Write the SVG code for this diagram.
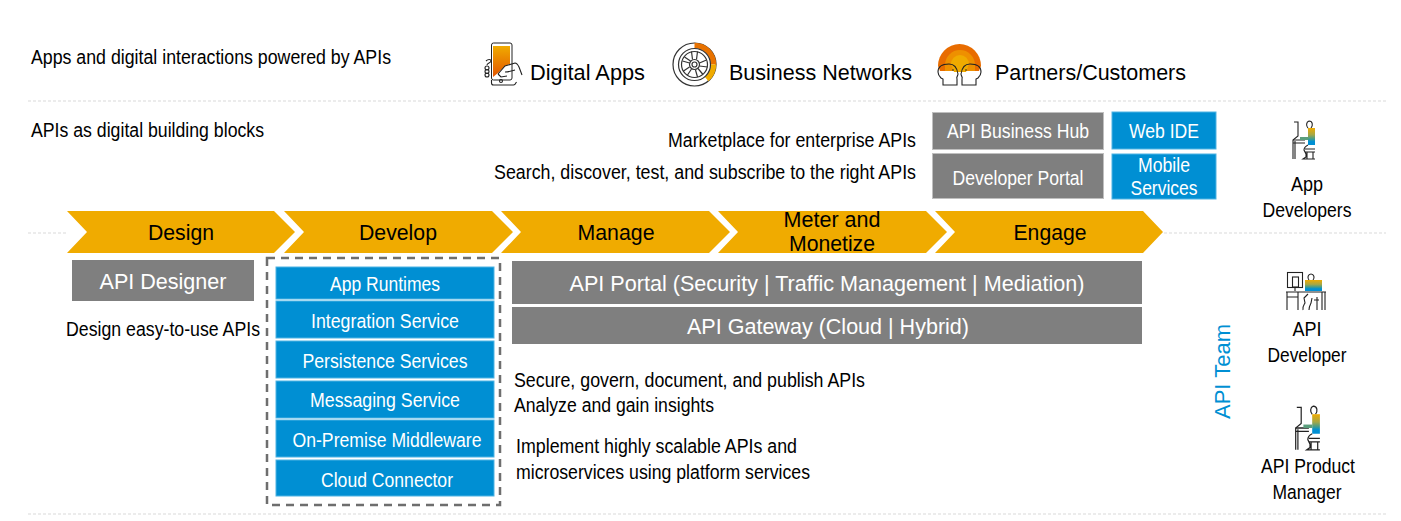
<svg xmlns="http://www.w3.org/2000/svg" width="1401" height="521" viewBox="0 0 1401 521">
<style>
text{font-family:"Liberation Sans",Arial,sans-serif;fill:#000}
.m{text-anchor:middle}
.w{fill:#fff;text-anchor:middle}
.t18{font-size:19.500px}
.t20{font-size:20.500px}
.t22{font-size:22.500px}
.gry{fill:#7f7f7f}
.blu{fill:#008fd3;stroke:#4fb3e3;stroke-width:1}
.chev{fill:#f0ab00}
.sep{stroke:#d9d9d9;stroke-width:1;stroke-dasharray:3 2;fill:none}
.ln{fill:none;stroke:#222;stroke-width:1.1}
.ln2{fill:none;stroke:#333;stroke-width:1.2}
</style>
<defs>
<linearGradient id="bar" x1="0" y1="0" x2="0" y2="1"><stop offset="0" stop-color="#f0ab00"/><stop offset=".4" stop-color="#a5a746"/><stop offset=".65" stop-color="#3f9c8f"/><stop offset=".8" stop-color="#008fd3"/><stop offset="1" stop-color="#008fd3"/></linearGradient>
<linearGradient id="ph" x1="0" y1="0" x2="0" y2="1"><stop offset="0" stop-color="#f0ab00"/><stop offset="1" stop-color="#e35500"/></linearGradient>
<g id="person">
<path class="ln" d="M8 2h4v14l-5 4v19M9 21v18"/>
<path class="ln" d="M7 20h12M7 23h12"/>
<path class="ln" d="M22 8c-2-2-2-6 1-7 4 0 4 5 2 7"/>
<rect x="22" y="8" width="7" height="17" fill="url(#bar)"/>
<rect x="14" y="17" width="8" height="3" fill="#5b9e7d"/>
<path class="ln" d="M22 25c-2 1-4 3-4 5l2 4v3l-3 2h6M19 29h10M19 32h10M21 32v7M27 32v7M20 39h9"/>
</g>
</defs>

<g id="separators">
<path class="sep" d="M28 101H1386M28 233H66M1164 233H1386M28 514H1386"/>
</g>

<g id="connectors"></g>

<g id="row-labels" transform="translate(0 0.700)">
<text class="t18" x="31" y="63" textLength="360" lengthAdjust="spacingAndGlyphs">Apps and digital interactions powered by APIs</text>
<text class="t18" x="31" y="136" textLength="233" lengthAdjust="spacingAndGlyphs">APIs as digital building blocks</text>
<text class="t18" x="668" y="146" textLength="248" lengthAdjust="spacingAndGlyphs">Marketplace for enterprise APIs</text>
<text class="t18" x="494" y="178" textLength="422" lengthAdjust="spacingAndGlyphs">Search, discover, test, and subscribe to the right APIs</text>
<text class="t18" x="66" y="335" textLength="194" lengthAdjust="spacingAndGlyphs">Design easy-to-use APIs</text>
<text class="t18" x="514" y="386" textLength="351" lengthAdjust="spacingAndGlyphs">Secure, govern, document, and publish APIs</text>
<text class="t18" x="514" y="411" textLength="200" lengthAdjust="spacingAndGlyphs">Analyze and gain insights</text>
<text class="t18" x="516" y="452" textLength="281" lengthAdjust="spacingAndGlyphs">Implement highly scalable APIs and</text>
<text class="t18" x="516" y="478" textLength="294" lengthAdjust="spacingAndGlyphs">microservices using platform services</text>
</g>

<g id="digital-apps">
<rect x="491.500" y="43" width="20.500" height="37" rx="2" fill="#fff" stroke="#222" stroke-width="1"/>
<path d="M493 46H510V64L505 66 498 73 493 77Z" fill="url(#ph)"/>
<path class="ln" d="M498 74l7-8 10-3c2 0 3 2 4 4l3 8M505 72c3 0 7-1 10-2M491.500 80v3c0 2 1 2 2 2h20c1 0 2-1 3-3M498 74l3 3 6-1"/>
<circle class="ln" cx="501" cy="81" r="1.500"/>
<path class="ln" d="M486 61c2-2 5-2 5 0s-4 2-4 4M485 68a2 2 0 1 0 4 0a2 2 0 1 0-4 0M485 71.500a2 2 0 1 0 4 0a2 2 0 1 0-4 0M485 75a2 2 0 1 0 4 0a2 2 0 1 0-4 0"/>
<text class="t22" x="530" y="80" textLength="115" lengthAdjust="spacingAndGlyphs">Digital Apps</text>
</g>

<g id="business-networks" >
<g transform="translate(6.500 0)">
<circle class="ln2" cx="688" cy="64.500" r="21.500"/>
<path d="M688 45.500A19 19 0 0 1 707 64.500" fill="none" stroke="#e87200" stroke-width="5.500"/>
<path d="M707 64.500A19 19 0 0 1 700.200 79.100" fill="none" stroke="#f0ab00" stroke-width="5.500"/>
<circle class="ln2" cx="688" cy="64.500" r="16"/>
<circle class="ln2" cx="688" cy="64.500" r="13"/>
<circle class="ln2" cx="688" cy="64.500" r="2.500"/>
<circle class="ln2" cx="688" cy="64.500" r="5"/>
<path class="ln2" d="M686 59.500l-1-8M690 59.500l1-8M693 63l7-3M693 66l8 1M691.500 68.500l5 6M689 70l2 7M685 69l-4 6M683 67l-6 4M683 63l-7-2M684 61l-6-4"/>
</g>
<text class="t22" x="729" y="80" textLength="183" lengthAdjust="spacingAndGlyphs">Business Networks</text>
</g>

<g id="partners">
<path d="M938 66a21.500 22 0 0 1 43 0l-2 5h-39z" fill="#e86c00"/>
<path d="M945 65a15 15 0 0 1 30 0v6h-30z" fill="#ee9000"/>
<path d="M951 64a9 9 0 0 1 18 0l-3 8h-12z" fill="#f0ab00"/>
<path class="ln" d="M957 85v-6c-1-2 1-3 1-5-1-7-4-10-9-10-6 0-11 2-11 8 0 3 1 4 3 6l2 1v6h11z" fill="#fff"/>
<path class="ln" d="M962 85v-6c1-2-1-3-1-5 1-7 4-10 9-10 6 0 11 2 11 8 0 3-1 4-3 6l-2 1v6h-11z" fill="#fff"/>
<circle cx="953" cy="70" r=".8" fill="#222"/><circle cx="966" cy="70" r=".8" fill="#222"/>
<text class="t22" x="995" y="80" textLength="191" lengthAdjust="spacingAndGlyphs">Partners/Customers</text>
</g>

<g id="api-business-hub"><rect class="gry" x="932.500" y="112.500" width="171" height="37" stroke="#bfbfbf"/><text class="w t20" x="1018" y="138" textLength="142" lengthAdjust="spacingAndGlyphs">API Business Hub</text></g>
<g id="developer-portal"><rect class="gry" x="932.500" y="153.500" width="171" height="45" stroke="#bfbfbf"/><text class="w t20" x="1018" y="185" textLength="131" lengthAdjust="spacingAndGlyphs">Developer Portal</text></g>
<g id="web-ide"><rect class="blu" x="1112" y="112" width="104" height="37"/><text class="w t20" x="1164" y="138" textLength="70" lengthAdjust="spacingAndGlyphs">Web IDE</text></g>
<g id="mobile-services"><rect class="blu" x="1112" y="154" width="104" height="45"/><text class="w t20" x="1164" y="172" textLength="52" lengthAdjust="spacingAndGlyphs">Mobile</text><text class="w t20" x="1164" y="195" textLength="67" lengthAdjust="spacingAndGlyphs">Services</text></g>

<g id="design"><path class="chev" d="M67 211H274L295 232L274 253H67L87 232Z"/><text class="m t22" x="181" y="240" textLength="66" lengthAdjust="spacingAndGlyphs">Design</text></g>
<g id="develop"><path class="chev" d="M284 211H492L513 232L492 253H284L304 232Z"/><text class="m t22" x="398" y="240" textLength="78" lengthAdjust="spacingAndGlyphs">Develop</text></g>
<g id="manage"><path class="chev" d="M501 211H709L730 232L709 253H501L521 232Z"/><text class="m t22" x="616" y="240" textLength="77" lengthAdjust="spacingAndGlyphs">Manage</text></g>
<g id="meter"><path class="chev" d="M718 211H926L947 232L926 253H718L738 232Z"/><text class="m t22" x="832" y="227" textLength="97" lengthAdjust="spacingAndGlyphs">Meter and</text><text class="m t22" x="832" y="251" textLength="86" lengthAdjust="spacingAndGlyphs">Monetize</text></g>
<g id="engage"><path class="chev" d="M935 211H1143L1163 232L1143 253H935L955 232Z"/><text class="m t22" x="1050" y="240" textLength="73" lengthAdjust="spacingAndGlyphs">Engage</text></g>

<g id="api-designer"><rect class="gry" x="72" y="260" width="182" height="41"/><text class="w t22" x="163" y="289" textLength="127" lengthAdjust="spacingAndGlyphs">API Designer</text></g>

<g id="develop-group"><rect x="267" y="258" width="233" height="247" fill="none" stroke="#6e6e6e" stroke-width="2.500" stroke-dasharray="8 6"/></g>
<g id="app-runtimes"><rect class="blu" x="276" y="267" width="218" height="32"/><text class="w t20" x="385" y="291" textLength="110" lengthAdjust="spacingAndGlyphs">App Runtimes</text></g>
<g id="integration-service"><rect class="blu" x="276" y="301" width="218" height="37"/><text class="w t20" x="385" y="328" textLength="148" lengthAdjust="spacingAndGlyphs">Integration Service</text></g>
<g id="persistence-services"><rect class="blu" x="276" y="341" width="218" height="37"/><text class="w t20" x="385" y="368" textLength="165" lengthAdjust="spacingAndGlyphs">Persistence Services</text></g>
<g id="messaging-service"><rect class="blu" x="276" y="381" width="218" height="37"/><text class="w t20" x="385" y="407" textLength="150" lengthAdjust="spacingAndGlyphs">Messaging Service</text></g>
<g id="on-premise"><rect class="blu" x="276" y="420" width="218" height="37"/><text class="w t20" x="387" y="447" textLength="189" lengthAdjust="spacingAndGlyphs">On-Premise Middleware</text></g>
<g id="cloud-connector"><rect class="blu" x="276" y="460" width="218" height="36"/><text class="w t20" x="387" y="487" textLength="132" lengthAdjust="spacingAndGlyphs">Cloud Connector</text></g>

<g id="api-portal"><rect class="gry" x="512" y="261" width="630" height="43"/><text class="w t22" x="827" y="291" textLength="515" lengthAdjust="spacingAndGlyphs">API Portal (Security | Traffic Management | Mediation)</text></g>
<g id="api-gateway"><rect class="gry" x="512" y="307" width="630" height="37"/><text class="w t22" x="828" y="334" textLength="282" lengthAdjust="spacingAndGlyphs">API Gateway (Cloud | Hybrid)</text></g>

<g id="api-team"><text font-size="22" style="fill:#008fd3" transform="translate(1230 419) rotate(-90)" textLength="95" lengthAdjust="spacingAndGlyphs">API Team</text></g>

<g id="app-developers"><use href="#person" x="1286" y="120"/><text class="m t20" x="1307" y="191" textLength="32" lengthAdjust="spacingAndGlyphs">App</text><text class="m t20" x="1307" y="217" textLength="89" lengthAdjust="spacingAndGlyphs">Developers</text></g>
<g id="api-developer">
<rect class="ln" x="1287.500" y="272.500" width="15" height="15"/><rect class="ln" x="1292.500" y="277" width="6" height="10"/><path class="ln" d="M1295 288v3"/>
<path class="ln" d="M1309 280c-2-2-1-6 2-6 3 0 4 4 2 6"/>
<rect x="1305" y="280" width="17" height="11" fill="url(#bar)"/>
<path class="ln" d="M1286 292h40M1287 292v18M1298 292v18M1287 297h11M1322 292v18M1325 292v18M1303 310c-1-3 1-5 2-7l-1-5 4-4M1309 310c0-3 1-5 2-7l1-5M1317 297v13M1314 300h5"/>
<text class="m t20" x="1307" y="336" textLength="29" lengthAdjust="spacingAndGlyphs">API</text><text class="m t20" x="1307" y="362" textLength="79" lengthAdjust="spacingAndGlyphs">Developer</text></g>
<g id="api-product-manager"><use href="#person" transform="translate(1288 405) scale(1.100 1.150)"/><text class="m t20" x="1308" y="473" textLength="94" lengthAdjust="spacingAndGlyphs">API Product</text><text class="m t20" x="1307" y="499" textLength="69" lengthAdjust="spacingAndGlyphs">Manager</text></g>
</svg>
